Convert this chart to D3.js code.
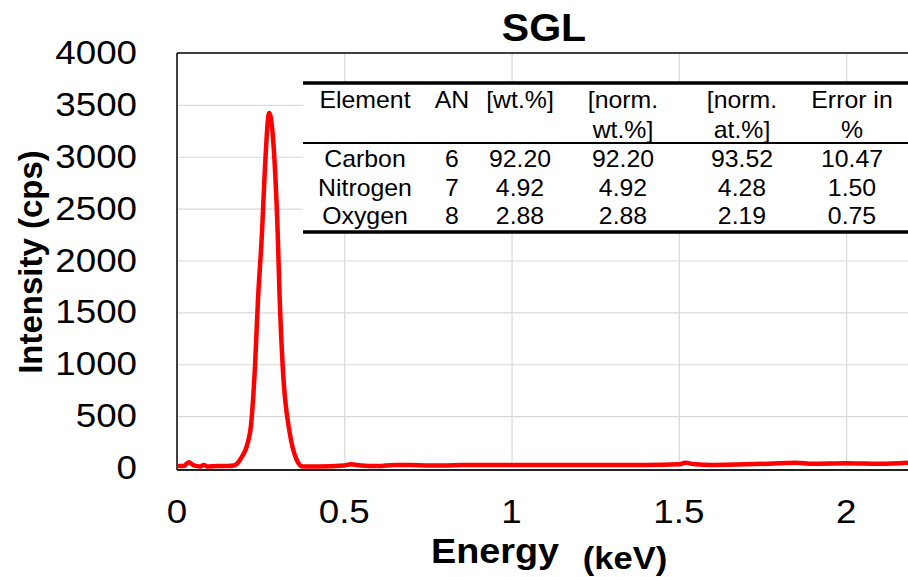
<!DOCTYPE html>
<html>
<head>
<meta charset="utf-8">
<script src="https://cdn.jsdelivr.net/npm/d3@7"></script>
<style>
  body { margin: 0; background: #fff; }
  svg { display: block; font-family: "Liberation Sans", Arial, sans-serif; }
</style>
</head>
<body>
<div id="chart"></div>
<script>
// spectrum (keV, cps)
var energy = [0, 0.02, 0.035, 0.05, 0.07, 0.08, 0.09, 0.12, 0.15, 0.17, 0.188,
  0.218, 0.233, 0.242, 0.254, 0.263, 0.2755, 0.2925, 0.301, 0.307, 0.316, 0.337, 0.358,
  0.375, 0.42, 0.5, 0.52, 0.55, 0.6, 0.65, 0.7, 0.75, 0.8, 0.85, 0.9, 1.0, 1.1, 1.2,
  1.3, 1.4, 1.5, 1.52, 1.55, 1.6, 1.7, 1.8, 1.85, 1.9, 2.0, 2.1, 2.185];
var counts = [20, 20, 55, 25, 15, 30, 15, 20, 20, 25, 77,
  337, 973, 1619, 2265, 2901, 3422, 2901, 2265, 1619, 973, 337, 77,
  15, 15, 25, 35, 25, 20, 30, 30, 25, 25, 30, 30, 30, 30, 30,
  30, 30, 35, 50, 35, 30, 35, 45, 50, 40, 45, 40, 50];

var xTicks = [0, 0.5, 1, 1.5, 2];
var yTicks = [0, 500, 1000, 1500, 2000, 2500, 3000, 3500, 4000];

// EDS table
var headers = [["Element"], ["AN"], ["[wt.%]"], ["[norm.", "wt.%]"], ["[norm.", "at.%]"], ["Error in", "%"]];
var elements = ["Carbon", "Nitrogen", "Oxygen"];
var atomicNo = ["6", "7", "8"];
var wtPct = ["92.20", "4.92", "2.88"];
var normWt = ["92.20", "4.92", "2.88"];
var normAt = ["93.52", "4.28", "2.19"];
var errPct = ["10.47", "1.50", "0.75"];

var W = 908, H = 577, SX = 1.08;
var svg = d3.select("#chart").append("svg").attr("width", W).attr("height", H);

var x = d3.scaleLinear().domain([0, 2.185]).range([177, 908]);
var y = d3.scaleLinear().domain([0, 4000]).range([468, 53]);

// text helper, slightly wide like the source image
function label(g, tx, ty, str, size, anchor, bold) {
  return g.append("text")
    .attr("transform", "translate(" + tx + "," + ty + ") scale(" + SX + ",1)")
    .attr("text-anchor", anchor || "middle")
    .attr("font-size", size)
    .attr("font-weight", bold ? "bold" : null)
    .text(str);
}

// grid
svg.append("g")
  .attr("transform", "translate(0,468)")
  .call(d3.axisBottom(x).tickValues(xTicks.slice(1)).tickSize(-415).tickFormat(""))
  .call(g => g.select(".domain").remove())
  .call(g => g.selectAll("line").attr("stroke", "#d9d9d9").attr("stroke-width", 1.2));
svg.append("g")
  .attr("transform", "translate(177,0)")
  .call(d3.axisLeft(y).tickValues(yTicks.slice(1, -1)).tickSize(-731).tickFormat(""))
  .call(g => g.select(".domain").remove())
  .call(g => g.selectAll("line").attr("stroke", "#d9d9d9").attr("stroke-width", 1.2));

// frame
svg.append("line").attr("x1", 177).attr("x2", 908).attr("y1", 53).attr("y2", 53)
  .attr("stroke", "#000").attr("stroke-width", 1.5);
svg.append("line").attr("x1", 177).attr("x2", 177).attr("y1", 53).attr("y2", 470)
  .attr("stroke", "#000").attr("stroke-width", 1.5);
svg.append("line").attr("x1", 177).attr("x2", 908).attr("y1", 470).attr("y2", 470)
  .attr("stroke", "#222").attr("stroke-width", 2);

// tick labels
var fmt = d3.format("");
var yl = svg.append("g");
yTicks.forEach(v => label(yl, 137, y(v) + 11, fmt(v), 34, "end"));
var xl = svg.append("g");
xTicks.forEach(v => label(xl, x(v), 523, fmt(v), 34, "middle"));

// spectrum
var pts = energy.map((e, i) => [e, counts[i]]);
svg.append("path")
  .datum(pts)
  .attr("fill", "none")
  .attr("stroke", "#ff0000")
  .attr("stroke-width", 4.5)
  .attr("stroke-linejoin", "round")
  .attr("d", d3.line().x(d => x(d[0])).y(d => y(d[1])).curve(d3.curveMonotoneX));

// table
var tbl = svg.append("g");
tbl.append("rect").attr("x", 303).attr("y", 82).attr("width", 605).attr("height", 151).attr("fill", "#fff");
tbl.append("line").attr("x1", 303).attr("x2", 908).attr("y1", 83).attr("y2", 83)
  .attr("stroke", "#000").attr("stroke-width", 3.5);
tbl.append("line").attr("x1", 303).attr("x2", 908).attr("y1", 143).attr("y2", 143)
  .attr("stroke", "#000").attr("stroke-width", 2);
tbl.append("line").attr("x1", 303).attr("x2", 908).attr("y1", 232).attr("y2", 232)
  .attr("stroke", "#000").attr("stroke-width", 3.5);

var colX = [365, 452, 520, 623, 742, 852];
headers.forEach(function (h, i) {
  h.forEach(function (line, j) {
    label(tbl, colX[i], 108 + j * 29.5, line, 23);
  });
});
var cols = [elements, atomicNo, wtPct, normWt, normAt, errPct];
cols.forEach(function (col, i) {
  col.forEach(function (v, r) {
    label(tbl, colX[i], 167 + r * 28.7, v, 23);
  });
});

// titles
label(svg, 544, 41, "SGL", 38, "middle", true);
svg.append("text").attr("transform", "translate(42,262) rotate(-90)")
  .attr("text-anchor", "middle").attr("font-size", 33).attr("font-weight", "bold")
  .text("Intensity (cps)");
label(svg, 495, 563, "Energy", 35, "middle", true);
label(svg, 625, 569, "(keV)", 32, "middle", true);
</script>
</body>
</html>
